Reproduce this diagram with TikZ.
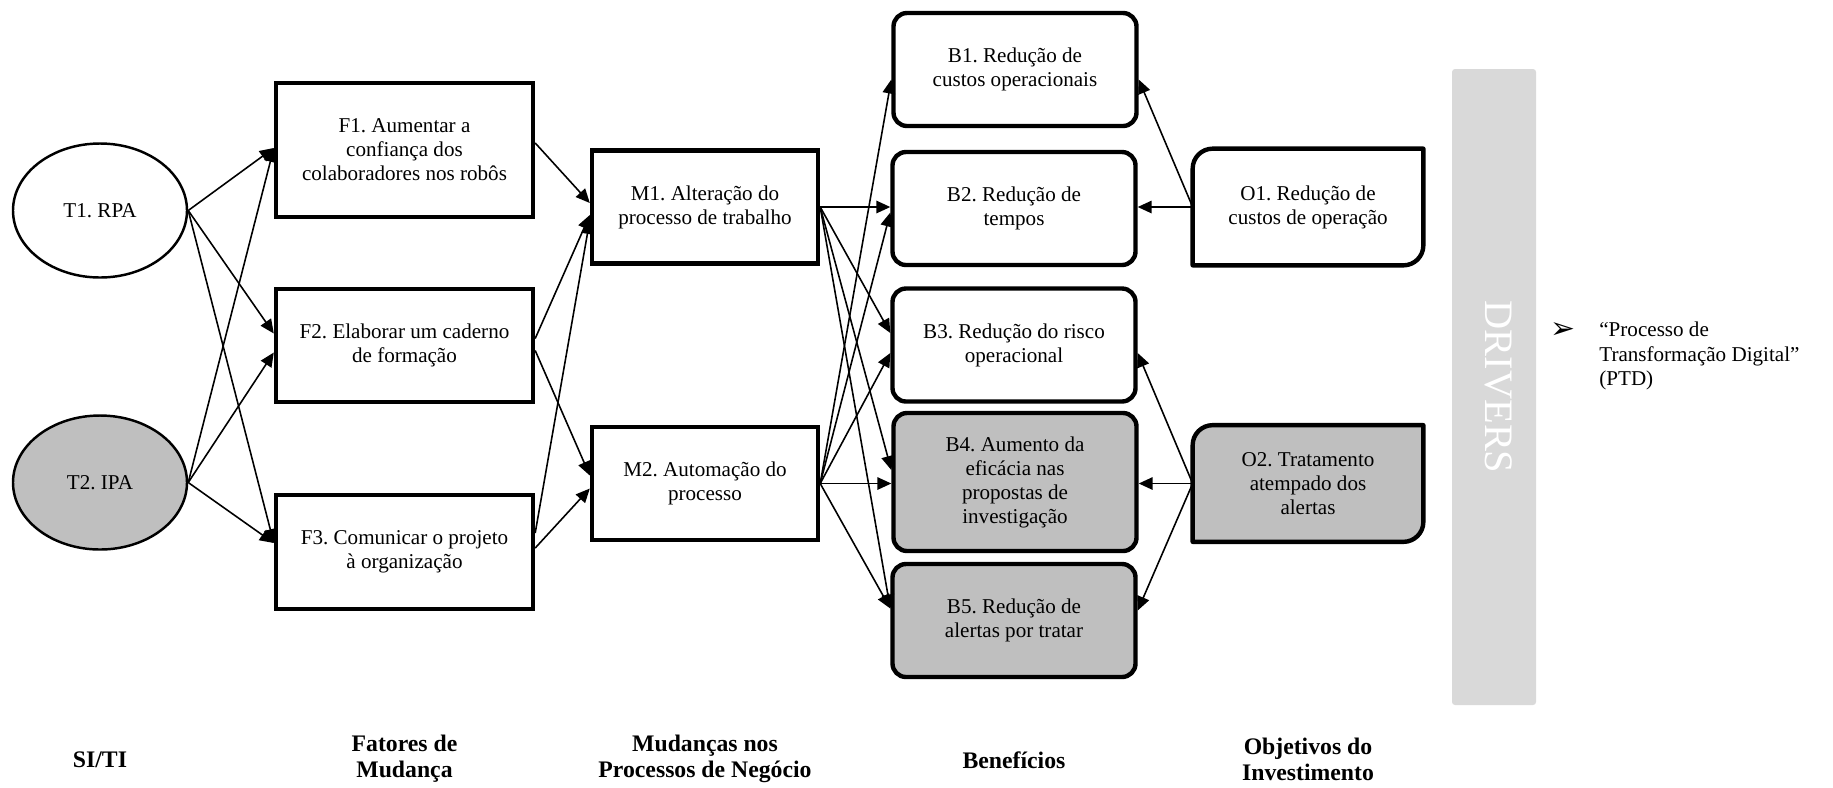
\documentclass[tikz,border=0pt]{standalone}
\usepackage{fontspec}
\setmainfont{Liberation Serif}
\newfontfamily\dingfont{DejaVu Sans}
\usetikzlibrary{arrows.meta,shapes.geometric,calc,backgrounds}
\definecolor{boxgray}{RGB}{191,191,191}
\definecolor{bargray}{RGB}{217,217,217}
\frenchspacing

% frame of an objective box: rounded top-left and bottom-right corners only
\newcommand\drawgoal[2]{%
  \draw[line width=2.5pt, line join=round, fill=#2]
    ([xshift=4mm]#1.north west) -- (#1.north east)
    -- ([yshift=4mm]#1.south east) arc[start angle=0, end angle=-90, radius=4mm]
    -- (#1.south west) -- ([yshift=-4mm]#1.north west)
    arc[start angle=180, end angle=90, radius=4mm] -- cycle;}

\begin{document}
\begin{tikzpicture}[x=0.2mm, y=-0.2mm,
  every node/.style={font=\fontsize{12}{13.66}\selectfont, align=center, inner sep=0pt},
  tech/.style={ellipse, draw, line width=1.4pt, minimum width=34.8mm, minimum height=26.8mm},
  factor/.style={rectangle, draw, line width=2.5pt, minimum width=51.4mm},
  change/.style={rectangle, draw, line width=2.5pt, minimum width=45.2mm, minimum height=22.6mm},
  benefit/.style={rectangle, rounded corners=2.7mm, draw, line width=2.5pt,
    minimum width=48.6mm, minimum height=22.6mm},
  goal/.style={rectangle, minimum width=46mm, minimum height=23.2mm},
  shaded/.style={fill=boxgray},
  link/.style={-{Triangle[length=2.8mm,width=2.5mm]}, line width=0.9pt},
  caption/.style={font=\fontsize{13.5}{14.8}\selectfont\bfseries}
]
\useasboundingbox (0,0) rectangle (1833,787);

% technologies
\node[tech] (T1) at (100,210.5) {T1. RPA};
\node[tech, shaded] (T2) at (100,482.5) {T2. IPA};

% change factors
\node[factor, minimum height=26.8mm] (F1) at (404.5,150) {F1. Aumentar a\\confiança dos\\colaboradores nos robôs};
\node[factor, minimum height=22.7mm] (F2) at (404.5,345.5) {F2. Elaborar um caderno\\de formação};
\node[factor, minimum height=22.8mm] (F3) at (404.5,552) {F3. Comunicar o projeto\\à organização};

% business process changes
\node[change] (M1) at (705,207) {M1. Alteração do\\processo de trabalho};
\node[change] (M2) at (705,483.5) {M2. Automação do\\processo};

% benefits
\node[benefit] (B1) at (1015,69.5) {B1. Redução de\\custos operacionais};
\node[benefit] (B2) at (1014,208.5) {B2. Redução de\\tempos};
\node[benefit] (B3) at (1014,345) {B3. Redução do risco\\operacional};
\node[benefit, shaded, minimum height=27.6mm] (B4) at (1015,482) {B4. Aumento da\\eficácia nas\\propostas de\\investigação};
\node[benefit, shaded] (B5) at (1014,620.5) {B5. Redução de\\alertas por tratar};

% investment objectives
\node[goal] (O1) at (1308,207) {O1. Redução de\\custos de operação};
\node[goal] (O2) at (1308,483.5) {O2. Tratamento\\atempado dos\\alertas};
\begin{scope}[on background layer]
  \drawgoal{O1}{white}
  \drawgoal{O2}{boxgray}
\end{scope}

% drivers bar
\node[fill=bargray, rounded corners=0.6mm, minimum width=16.8mm, minimum height=127.2mm] (drivers) at (1494,387) {};
\node[rotate=-90, text=white, font=\fontsize{23}{27}\selectfont] (drvlabel) at (1499,387) {DRIVERS};

% bullet note
\node (bullet) at (1563,331) {\dingfont\fontsize{17}{19}\selectfont ➢};
\node[anchor=north west, align=left] (ptd) at (1599,322) {“Processo de\\Transformação Digital”\\(PTD)};

% technologies -> factors
\draw[link] (T1.east) -- ($(F1.west)+(0,-2)$);
\draw[link] (T1.east) -- ($(F2.west)+(0,-12)$);
\draw[link] (T1.east) -- ($(F3.west)+(0,-9)$);
\draw[link] (T2.east) -- ($(F1.west)+(0,-2)$);
\draw[link] (T2.east) -- ($(F2.west)+(0,7)$);
\draw[link] (T2.east) -- ($(F3.west)+(0,-9)$);

% factors -> process changes
\draw[link] ($(F1.east)+(0,-7)$) -- ($(M1.west)+(0,-4)$);
\draw[link] ($(F2.east)+(0,-7)$) -- ($(M1.west)+(0,8)$);
\draw[link] ($(F3.east)+(0,-19)$) -- ($(M1.west)+(0,13)$);
\draw[link] ($(F2.east)+(0,5)$) -- ($(M2.west)+(0,-8)$);
\draw[link] ($(F3.east)+(0,-4)$) -- ($(M2.west)+(0,5)$);

% process changes -> benefits
\draw[link] (M1.east) -- (M1.east -| B2.west);
\draw[link] (M1.east) -- ($(B3.west)+(0,-12)$);
\draw[link] (M1.east) -- ($(B4.west)+(0,-12)$);
\draw[link] (M1.east) -- ($(B5.west)+(0,-12)$);
\draw[link] (M2.east) -- ($(B1.west)+(0,10)$);
\draw[link] (M2.east) -- ($(B2.west)+(0,4)$);
\draw[link] (M2.east) -- ($(B3.west)+(0,8)$);
\draw[link] (M2.east) -- (M2.east -| B4.west);
\draw[link] (M2.east) -- ($(B5.west)+(0,-12)$);

% objectives -> benefits
\draw[link] (O1.west) -- ($(B1.east)+(0,10)$);
\draw[link] (O1.west) -- (O1.west -| B2.east);
\draw[link] (O2.west) -- ($(B3.east)+(0,8)$);
\draw[link] (O2.west) -- (O2.west -| B4.east);
\draw[link] (O2.west) -- ($(B5.east)+(0,-10)$);

% column captions
\node[caption] (cT) at (100,760) {SI/TI};
\node[caption] (cF) at (404.5,759) {Fatores de\\Mudança};
\node[caption] (cM) at (705,759) {Mudanças nos\\Processos de Negócio};
\node[caption] (cB) at (1014,760) {Benefícios};
\node[caption] (cO) at (1308,759) {Objetivos do\\Investimento};
\end{tikzpicture}
\end{document}
